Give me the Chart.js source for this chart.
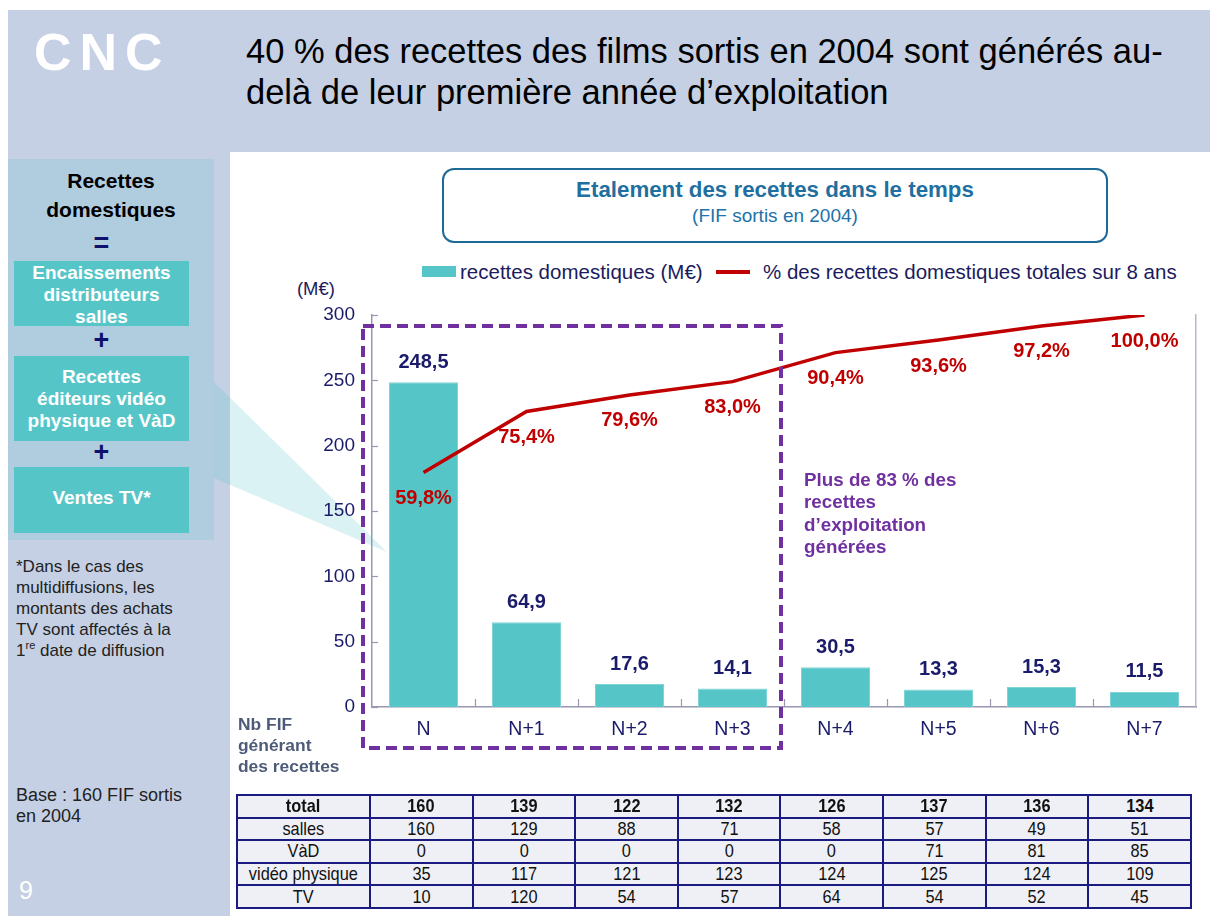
<!DOCTYPE html>
<html lang="fr">
<head>
<meta charset="utf-8">
<script src="https://cdn.jsdelivr.net/npm/chart.js@4/dist/chart.umd.min.js"></script>
<style>
  html,body{margin:0;padding:0;background:#fff;}
  body{width:1210px;height:916px;position:relative;overflow:hidden;font-family:"Liberation Sans",Arial,sans-serif;}
  .abs{position:absolute;white-space:nowrap;}
  #slide{position:absolute;left:8px;top:10px;width:1202px;height:906px;background:#C5D0E4;}
  #white{position:absolute;left:230px;top:152px;width:980px;height:764px;background:#fff;}
  #panel{position:absolute;left:8px;top:159px;width:206px;height:381px;background:#B0CDDF;}
  .tbox{position:absolute;left:14px;width:175px;background:#56C5C8;}
  .wt{color:#fff;font-weight:bold;font-size:19px;text-align:center;width:175px;left:14px;line-height:22px;}
  .nv{color:#0F0F6E;font-weight:bold;font-size:27px;text-align:center;width:175px;left:14px;line-height:26px;}
  .foot{left:16px;color:#222;line-height:21px;}
  #chartwrap{position:absolute;left:230px;top:152px;width:980px;height:640px;}
  table{position:absolute;left:236px;top:794px;border-collapse:collapse;font-family:"Liberation Sans",Arial,sans-serif;font-size:19px;color:#111;background:#EEF0F5;table-layout:fixed;}
  td{border:2px solid #1A1A80;height:20.6px;padding:0;text-align:center;line-height:20px;overflow:hidden;}
  td span{display:inline-block;transform:scaleX(0.86);transform-origin:center;}
  tr.tot td{font-weight:bold;}
</style>
</head>
<body>
<div id="slide"></div>
<div id="white"></div>

<!-- header -->
<div class="abs" style="left:34px;top:22px;font-size:52px;font-weight:bold;color:#fff;letter-spacing:8px;line-height:60px;">CNC</div>
<div class="abs" style="left:246px;top:31px;font-size:34.5px;line-height:41px;color:#000;">40 % des recettes des films sortis en 2004 sont générés au-<br>delà de leur première année d’exploitation</div>

<!-- left panel -->
<div id="panel"></div>
<svg class="abs" style="left:0;top:0;" width="1210" height="916"><polygon points="214,382 214,478 387,552" fill="rgba(86,197,200,0.22)"/></svg>
<div class="abs" style="left:8px;top:167px;width:206px;text-align:center;font-weight:bold;font-size:21px;line-height:28.5px;color:#000;">Recettes<br>domestiques</div>
<div class="abs nv" style="top:230px;">=</div>
<div class="tbox" style="top:261px;height:65px;"></div>
<div class="abs wt" style="top:262px;">Encaissements<br>distributeurs<br>salles</div>
<div class="abs nv" style="top:327px;">+</div>
<div class="tbox" style="top:356px;height:85px;"></div>
<div class="abs wt" style="top:366px;">Recettes<br>éditeurs vidéo<br>physique et VàD</div>
<div class="abs nv" style="top:439px;">+</div>
<div class="tbox" style="top:467px;height:66px;"></div>
<div class="abs wt" style="top:487px;">Ventes TV*</div>
<div class="abs foot" style="top:556px;font-size:17px;">*Dans le cas des<br>multidiffusions, les<br>montants des achats<br>TV sont affectés à la<br>1<sup style="font-size:11px;line-height:0;">re</sup> date de diffusion</div>
<div class="abs foot" style="top:785px;font-size:18px;">Base : 160 FIF sortis<br>en 2004</div>
<div class="abs" style="left:19px;top:876px;font-size:25px;color:#fff;line-height:28px;">9</div>

<!-- chart title box -->
<div class="abs" style="left:442px;top:168px;width:662px;height:71px;border:2px solid #1E6A96;border-radius:12px;background:#fff;"></div>
<div class="abs" style="left:442px;top:176px;width:666px;text-align:center;font-weight:bold;font-size:22.3px;line-height:27px;color:#1F6FA0;">Etalement des recettes dans le temps</div>
<div class="abs" style="left:442px;top:205px;width:666px;text-align:center;font-size:19px;line-height:22px;color:#2272A8;">(FIF sortis en 2004)</div>

<!-- legend -->
<div class="abs" style="left:422px;top:266px;width:34px;height:11px;background:#56C5C8;"></div>
<div class="abs" style="left:460px;top:259px;font-size:20.5px;line-height:26px;color:#1B1B5E;">recettes domestiques (M€)</div>
<div class="abs" style="left:716px;top:270px;width:34px;height:4px;background:#C00000;"></div>
<div class="abs" style="left:763px;top:259px;font-size:20.5px;line-height:26px;color:#1B1B5E;">% des recettes domestiques totales sur 8 ans</div>
<div class="abs" style="left:297px;top:278px;font-size:18.4px;line-height:22px;color:#1B1B5E;">(M€)</div>

<div id="chartwrap"><canvas id="c" width="980" height="640"></canvas></div>

<div class="abs" style="left:804px;top:469px;font-weight:bold;font-size:18.8px;line-height:22.4px;color:#7030A0;">Plus de 83 % des<br>recettes<br>d’exploitation<br>générées</div>
<div class="abs" style="left:238px;top:714px;font-weight:bold;font-size:17.4px;line-height:21px;color:#4E5B78;">Nb FIF<br>générant<br>des recettes</div>

<table id="tbl"></table>

<script>
// ---- data ----
const categories = ['N', 'N+1', 'N+2', 'N+3', 'N+4', 'N+5', 'N+6', 'N+7'];
const revenues = [248.5, 64.9, 17.6, 14.1, 30.5, 13.3, 15.3, 11.5];
const cumulativeShare = [59.8, 75.4, 79.6, 83.0, 90.4, 93.6, 97.2, 100.0];
const yTickValues = [0, 50, 100, 150, 200, 250, 300];
const rowLabels = ['total', 'salles', 'VàD', 'vidéo physique', 'TV'];
const filmsTotal = [160, 139, 122, 132, 126, 137, 136, 134];
const filmsSalles = [160, 129, 88, 71, 58, 57, 49, 51];
const filmsVad = [0, 0, 0, 0, 0, 71, 81, 85];
const filmsVideo = [35, 117, 121, 123, 124, 125, 124, 109];
const filmsTv = [10, 120, 54, 57, 64, 54, 52, 45];

// ---- table ----
(function(){
  const rows = [filmsTotal, filmsSalles, filmsVad, filmsVideo, filmsTv];
  const t = document.getElementById('tbl');
  let html = '<colgroup><col style="width:133px">' + categories.map(()=>'<col style="width:102.6px">').join('') + '</colgroup>';
  rows.forEach((r, i) => {
    html += '<tr' + (i===0?' class="tot"':'') + '><td><span>' + rowLabels[i] + '</span></td>' + r.map(v=>'<td><span>'+v+'</span></td>').join('') + '</tr>';
  });
  t.innerHTML = html;
  t.style.width = '954px';
})();

const fmt = v => v.toFixed(1).replace('.', ',');
const NAVY = '#1B1B6B';
const AXIS = '#9898B0';
const FONT = '"Liberation Sans", Arial, sans-serif';

const innerTicks = {
  id: 'innerTicks',
  beforeDatasetsDraw(chart){
    const {ctx, chartArea:a, scales:{x, y}} = chart;
    ctx.save();
    ctx.strokeStyle = AXIS; ctx.lineWidth = 1.2;
    yTickValues.forEach(v => {
      const py = Math.round(y.getPixelForValue(v)) + 0.5;
      ctx.beginPath(); ctx.moveTo(a.left, py); ctx.lineTo(a.left + 6, py); ctx.stroke();
    });
    for (let i = 0; i < categories.length - 1; i++) {
      const px = Math.round((x.getPixelForValue(i) + x.getPixelForValue(i+1)) / 2) + 0.5;
      ctx.beginPath(); ctx.moveTo(px, a.bottom); ctx.lineTo(px, a.bottom - 8); ctx.stroke();
    }
    ctx.restore();
  }
};

const valueLabels = {
  id: 'valueLabels',
  afterDatasetsDraw(chart){
    const ctx = chart.ctx;
    ctx.save();
    ctx.font = 'bold 20px ' + FONT;
    ctx.textAlign = 'center'; ctx.textBaseline = 'middle';
    ctx.fillStyle = NAVY;
    chart.getDatasetMeta(0).data.forEach((el, i) => ctx.fillText(fmt(revenues[i]), el.x, el.y - 20));
    ctx.fillStyle = '#C00000';
    chart.getDatasetMeta(1).data.forEach((el, i) => ctx.fillText(fmt(cumulativeShare[i]) + '%', el.x, el.y + 26));
    ctx.restore();
  }
};

const highlightBox = {
  id: 'highlightBox',
  afterDraw(chart){
    const {ctx, chartArea:a, scales:{x, y}} = chart;
    const left = a.left - 9;
    const right = (x.getPixelForValue(3) + x.getPixelForValue(4)) / 2 - 3;
    const top = y.getPixelForValue(300) + 11;
    const bottom = a.bottom + 41;
    ctx.save();
    ctx.strokeStyle = '#7030A0'; ctx.lineWidth = 4; ctx.setLineDash([11, 6]);
    ctx.strokeRect(left, top, right - left, bottom - top);
    ctx.restore();
  }
};

new Chart(document.getElementById('c'), {
  data: {
    labels: categories,
    datasets: [
      { type: 'bar', label: 'recettes domestiques (M€)', data: revenues, yAxisID: 'y',
        backgroundColor: '#56C5C8', borderColor: '#7FD4D6', borderWidth: 1,
        categoryPercentage: 1, barPercentage: 0.67, order: 1 },
      { type: 'line', label: '% des recettes domestiques totales sur 8 ans', data: cumulativeShare, yAxisID: 'y1',
        borderColor: '#C00000', borderWidth: 3.5, pointRadius: 0, tension: 0, fill: false, order: 0 }
    ]
  },
  options: {
    responsive: false, animation: false, devicePixelRatio: 1,
    layout: { padding: { top: 163, right: 14, left: 0, bottom: 0 } },
    plugins: { legend: { display: false }, tooltip: { enabled: false } },
    scales: {
      x: { offset: true, grid: { display: false, drawTicks: false },
           border: { color: AXIS, width: 1.5 },
           ticks: { color: NAVY, font: { family: FONT, size: 19.5 }, padding: 11 },
           afterFit: s => { s.height = 85; } },
      y: { min: 0, max: 300, position: 'left',
           grid: { display: false, drawTicks: false },
           border: { color: AXIS, width: 1.5 },
           ticks: { stepSize: 50, color: NAVY, font: { family: FONT, size: 19 }, padding: 17 },
           afterFit: s => { s.width = 142; } },
      y1: { min: 0, max: 100, position: 'right',
            grid: { display: false, drawTicks: false },
            border: { color: '#B8B8C8', width: 1.5 },
            ticks: { display: false },
            afterFit: s => { s.width = 0; } }
    }
  },
  plugins: [innerTicks, valueLabels, highlightBox]
});
</script>
</body>
</html>
